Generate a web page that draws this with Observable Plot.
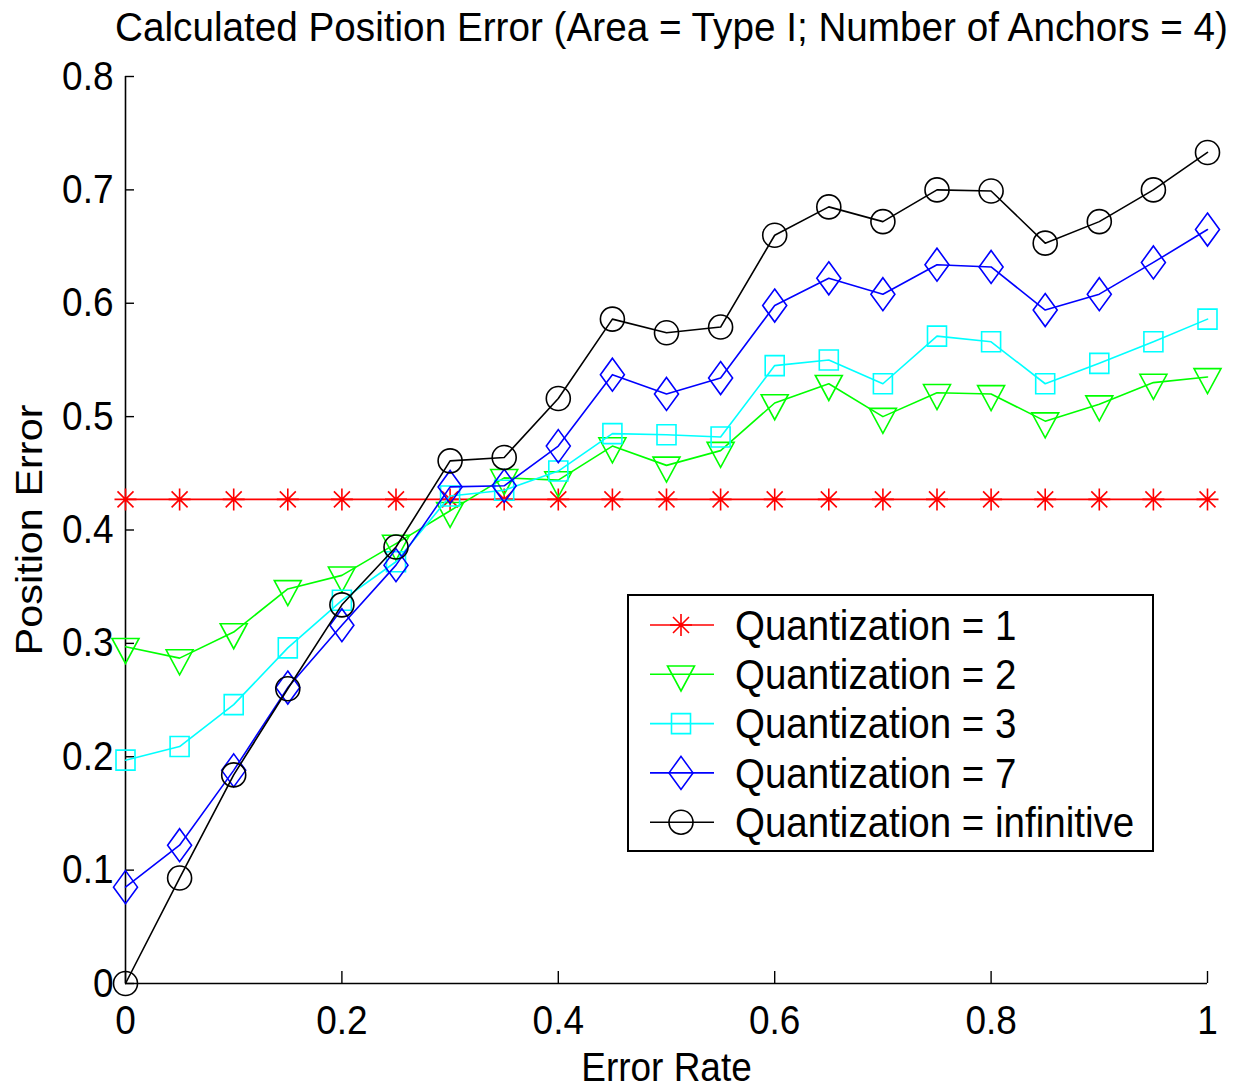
<!DOCTYPE html>
<html>
<head>
<meta charset="utf-8">
<script src="https://cdn.jsdelivr.net/npm/d3@7"></script>
<script src="https://cdn.jsdelivr.net/npm/@observablehq/plot@0.6"></script>
<style>
  html, body { margin: 0; padding: 0; background: #fff; overflow: hidden; }
  #wrap { position: relative; width: 1235px; height: 1090px; font-family: "Liberation Sans", Arial, Helvetica, sans-serif; }
  #title { position: absolute; left: 115px; top: 5px; font-size: 38px; line-height: 44px; white-space: nowrap; color: #000; transform-origin: 0 50%; }
  #legend { position: absolute; left: 627px; top: 594px; }
  #chart svg { display: block; }
</style>
</head>
<body>
<div id="wrap">
  <div id="chart"></div>
  <div id="title">Calculated Position Error (Area = Type I; Number of Anchors = 4)</div>
  <svg id="legend" width="527" height="258"></svg>
</div>
<script>
// ---- data ----
const errorRate = [0, 0.05, 0.1, 0.15, 0.2, 0.25, 0.3, 0.35, 0.4, 0.45, 0.5, 0.55, 0.6, 0.65, 0.7, 0.75, 0.8, 0.85, 0.9, 0.95, 1];
const quant1   = [0.427, 0.427, 0.427, 0.427, 0.427, 0.427, 0.427, 0.427, 0.427, 0.427, 0.427, 0.427, 0.427, 0.427, 0.427, 0.427, 0.427, 0.427, 0.427, 0.427, 0.427];
const quant2   = [0.297, 0.287, 0.310, 0.348, 0.360, 0.388, 0.417, 0.446, 0.444, 0.474, 0.457, 0.470, 0.512, 0.529, 0.500, 0.521, 0.520, 0.496, 0.511, 0.530, 0.535];
const quant3   = [0.197, 0.209, 0.246, 0.296, 0.338, 0.372, 0.430, 0.435, 0.452, 0.485, 0.484, 0.482, 0.545, 0.550, 0.529, 0.571, 0.566, 0.529, 0.547, 0.566, 0.586];
const quant7   = [0.085, 0.122, 0.188, 0.261, 0.316, 0.369, 0.438, 0.439, 0.474, 0.537, 0.520, 0.534, 0.598, 0.622, 0.608, 0.634, 0.632, 0.594, 0.608, 0.636, 0.665];
const quantInf = [0.000, 0.093, 0.184, 0.260, 0.334, 0.385, 0.461, 0.464, 0.516, 0.586, 0.574, 0.579, 0.660, 0.685, 0.672, 0.700, 0.699, 0.653, 0.672, 0.700, 0.733];

const seriesNames  = ["Quantization = 1", "Quantization = 2", "Quantization = 3", "Quantization = 7", "Quantization = infinitive"];
const seriesColors = ["#ff0000", "#00ff00", "#00ffff", "#0000ff", "#000000"];
const seriesValues = [quant1, quant2, quant3, quant7, quantInf];

const xTicks = [0, 0.2, 0.4, 0.6, 0.8, 1];
const yTicks = [0, 0.1, 0.2, 0.3, 0.4, 0.5, 0.6, 0.7, 0.8];
const xTickLabels = ["0", "0.2", "0.4", "0.6", "0.8", "1"];
const yTickLabels = ["0", "0.1", "0.2", "0.3", "0.4", "0.5", "0.6", "0.7", "0.8"];

const titleText = "Calculated Position Error (Area = Type I; Number of Anchors = 4)";
const xLabel = "Error Rate";
const yLabel = "Position Error";

// ---- MATLAB-like marker shapes ----
const symAsterisk = {draw(c) {
  c.moveTo(0, -11); c.lineTo(0, 11);
  c.moveTo(-11, 0); c.lineTo(11, 0);
  c.moveTo(-8, -8); c.lineTo(8, 8);
  c.moveTo(-8, 8); c.lineTo(8, -8);
}};
const symTriDown = {draw(c) {
  c.moveTo(-13.5, -8.3); c.lineTo(13.5, -8.3); c.lineTo(0, 16.7); c.closePath();
}};
const symSquare = {draw(c) {
  c.moveTo(-9.5, -10); c.lineTo(9.5, -10); c.lineTo(9.5, 10); c.lineTo(-9.5, 10); c.closePath();
}};
const symDiamond = {draw(c) {
  c.moveTo(0, -16.5); c.lineTo(12, 0); c.lineTo(0, 16.5); c.lineTo(-12, 0); c.closePath();
}};
const symCircle = {draw(c) {
  c.moveTo(12, 0); c.arc(0, 0, 12, 0, 2 * Math.PI); c.closePath();
}};
const seriesSymbols = [symAsterisk, symTriDown, symSquare, symDiamond, symCircle];

// ---- long table built from the arrays ----
const rows = seriesNames.map((name, s) => errorRate.map((x, i) => ({series: name, s, x, y: seriesValues[s][i]})));

const font = "Liberation Sans, Arial, Helvetica, sans-serif";
const fmtX = d => xTickLabels[xTicks.indexOf(d)];
const fmtY = d => yTickLabels[yTicks.indexOf(d)];
const marks = [
  Plot.ruleX([0], {stroke: "#000", strokeWidth: 1.6}),
  Plot.ruleY([0], {stroke: "#000", strokeWidth: 1.6}),
  // inward ticks
  Plot.axisY({ticks: yTicks, tickSize: 9, dx: 9, tickFormat: () => "", label: null, strokeWidth: 1.4}),
  Plot.axisX({ticks: xTicks, tickSize: 12, dy: -12, tickFormat: () => "", label: null, strokeWidth: 1.4}),
  // tick labels
  Plot.axisY({ticks: yTicks, tickSize: 0, tickPadding: 12, fontSize: 37, tickFormat: fmtY, label: null}),
  Plot.axisX({ticks: xTicks, tickSize: 0, tickPadding: 22, fontSize: 37, tickFormat: fmtX, label: null}),
  Plot.text([xLabel], {text: d => d, frameAnchor: "bottom", textAnchor: "middle", lineAnchor: "middle", dy: 84, fontSize: 37}),
  Plot.text([yLabel], {text: d => d, frameAnchor: "left", textAnchor: "middle", lineAnchor: "middle", rotate: -90, dx: -95, fontSize: 37})
];
rows.forEach((data, s) => {
  marks.push(Plot.line(data, {x: "x", y: "y", stroke: seriesColors[s], strokeWidth: 1.6}));
  marks.push(Plot.dot(data, {x: "x", y: "y", symbol: seriesSymbols[s], stroke: seriesColors[s], fill: "none", strokeWidth: 1.6}));
});

const chart = Plot.plot({
  width: 1235,
  height: 1090,
  marginLeft: 125,
  marginRight: 28,
  marginTop: 76,
  marginBottom: 107,
  style: {fontFamily: font, fontSize: "37px", background: "#fff", color: "#000"},
  x: {domain: [0, 1], axis: null},
  y: {domain: [0, 0.8], axis: null},
  marks
});
document.getElementById("chart").appendChild(chart);

// reference glyphs are slightly taller than they are wide: stretch text vertically
d3.select(chart).selectAll("text").each(function() {
  const t = this.getAttribute("transform");
  const rotated = t && /rotate\(\s*-?90/.test(t);
  const sc = rotated ? "scale(1.12,1)" : "scale(1,1.1)";
  if (t) {
    this.setAttribute("transform", t + " " + sc);
  } else {
    const x = +this.getAttribute("x") || 0, y = +this.getAttribute("y") || 0;
    this.setAttribute("transform", `translate(${x},${y}) ${sc} translate(${-x},${-y})`);
  }
});

// ---- title fitted to the reference width ----
const title = document.getElementById("title");
title.textContent = titleText;
const tw = title.getBoundingClientRect().width;
title.style.transform = `scale(${1113 / tw}, 1.08)`;

// ---- legend ----
const leg = d3.select("#legend");
leg.append("rect").attr("x", 1).attr("y", 1).attr("width", 525).attr("height", 256)
  .attr("fill", "#fff").attr("stroke", "#000").attr("stroke-width", 2);
seriesNames.forEach((name, s) => {
  const cy = 31 + s * 49.3;
  leg.append("line").attr("x1", 23).attr("x2", 87).attr("y1", cy).attr("y2", cy)
    .attr("stroke", seriesColors[s]).attr("stroke-width", 1.6);
  const p = d3.path();
  seriesSymbols[s].draw(p, 0);
  leg.append("path").attr("d", p.toString()).attr("transform", `translate(54,${cy})`)
    .attr("fill", "none").attr("stroke", seriesColors[s]).attr("stroke-width", 1.6);
  leg.append("text").attr("transform", `translate(108,${cy}) scale(1,1.1)`).attr("dy", "0.35em")
    .attr("font-family", font).attr("font-size", 38.5).text(name);
});
</script>
</body>
</html>
